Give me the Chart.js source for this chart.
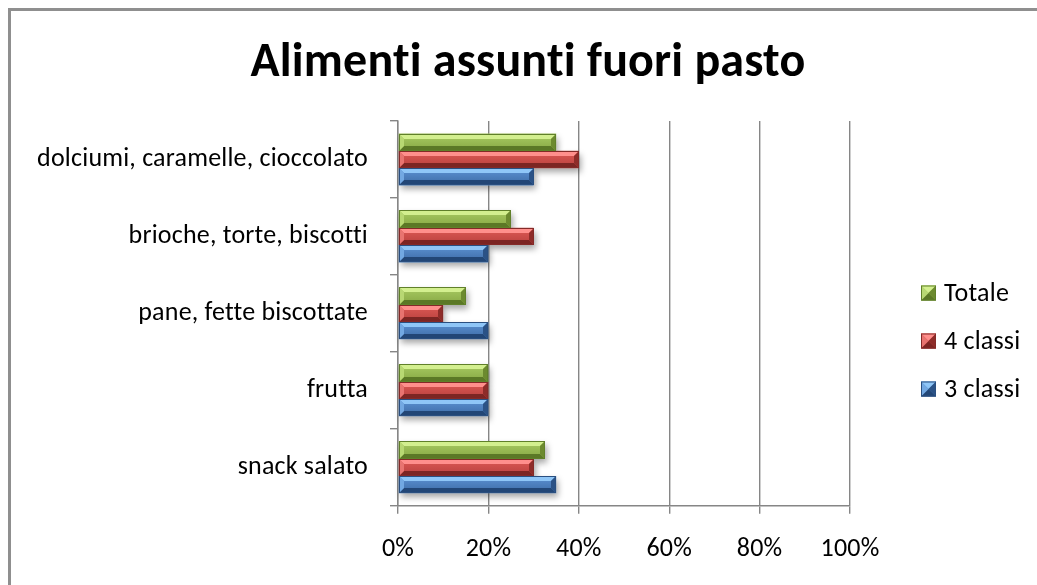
<!DOCTYPE html>
<html>
<head>
<meta charset="utf-8">
<script src="https://cdn.jsdelivr.net/npm/chart.js@4.4.1/dist/chart.umd.min.js"></script>
<style>
  html, body { margin: 0; padding: 0; background: #fff; overflow: hidden; }
  #frame { position: absolute; left: 8px; top: 8px; width: 1100px; height: 650px;
           border: 3px solid #8f8f8f; box-sizing: border-box; }
  #wrap { position: absolute; left: 0; top: 0; width: 1037px; height: 585px; }
</style>
</head>
<body>
<div id="frame"></div>
<div id="wrap"><canvas id="c" width="1037" height="585"></canvas></div>
<script>
// Foods eaten between meals, share of pupils per group (%)
const categories = [
  'dolciumi, caramelle, cioccolato',
  'brioche, torte, biscotti',
  'pane, fette biscottate',
  'frutta',
  'snack salato'
];
const seriesNames = ['Totale', '4 classi', '3 classi'];
const totale  = [35, 25, 15, 20, 32.5];
const classi4 = [40, 30, 10, 20, 30];
const classi3 = [30, 20, 20, 20, 35];
const xTicks  = [0, 20, 40, 60, 80, 100];
const chartTitle = 'Alimenti assunti fuori pasto';

const FONT = "Carlito, Calibri, Lato, 'Open Sans', sans-serif";

// bevel palettes for each series
const palettes = [
  { base: '#9bbb59', hi: '#d3ef8f', faceTop: '#a9cb63', faceBot: '#86a743', lo: '#5b7826', left: '#b8d873', right: '#6c8a2f', edge: '#60802a' },
  { base: '#c0504d', hi: '#ff8f8c', faceTop: '#de5a56', faceBot: '#b8403d', lo: '#7c2523', left: '#e87470', right: '#8e2c29', edge: '#842a28' },
  { base: '#4f81bd', hi: '#8fc6f7', faceTop: '#5d93d4', faceBot: '#3d6ba6', lo: '#224676', left: '#72a8e2', right: '#2b5286', edge: '#2a4f80' }
];

function poly(ctx, pts, fill) {
  ctx.beginPath();
  ctx.moveTo(pts[0][0], pts[0][1]);
  for (let i = 1; i < pts.length; i++) ctx.lineTo(pts[i][0], pts[i][1]);
  ctx.closePath();
  ctx.fillStyle = fill;
  ctx.fill();
}

function bevelRect(ctx, x0, y0, x1, y1, p, bev) {
  const b = Math.min(bev, (y1 - y0) / 2, (x1 - x0) / 2);
  const g = ctx.createLinearGradient(0, y0, 0, y1);
  g.addColorStop(0, p.faceTop);
  g.addColorStop(1, p.faceBot);
  ctx.fillStyle = g;
  ctx.fillRect(x0, y0, x1 - x0, y1 - y0);
  poly(ctx, [[x0, y0], [x1, y0], [x1 - b, y0 + b], [x0 + b, y0 + b]], p.hi);
  poly(ctx, [[x0, y1], [x1, y1], [x1 - b, y1 - b], [x0 + b, y1 - b]], p.lo);
  poly(ctx, [[x0, y0], [x0 + b, y0 + b], [x0 + b, y1 - b], [x0, y1]], p.left);
  poly(ctx, [[x1, y0], [x1 - b, y0 + b], [x1 - b, y1 - b], [x1, y1]], p.right);
  ctx.strokeStyle = p.edge;
  ctx.lineWidth = 1;
  ctx.strokeRect(x0 + 0.5, y0 + 0.5, x1 - x0 - 1, y1 - y0 - 1);
}

function barBox(el) {
  const x0 = Math.min(el.x, el.base), x1 = Math.max(el.x, el.base);
  const y0 = el.y - el.height / 2, y1 = el.y + el.height / 2;
  return { x0: Math.round(x0), x1: Math.round(x1), y0: Math.round(y0), y1: Math.round(y1) };
}

const bevelPlugin = {
  id: 'bevelBars',
  beforeDraw(chart) {
    // plain glyphs, no "ti"/"tt" ligatures
    const ctx = chart.ctx;
    if ('textRendering' in ctx) ctx.textRendering = 'optimizeSpeed';
    if ('letterSpacing' in ctx) ctx.letterSpacing = '0.2px';
  },
  beforeDatasetsDraw(chart) {
    const ctx = chart.ctx;
    ctx.save();
    ctx.shadowColor = 'rgba(0,0,0,0.35)';
    ctx.shadowBlur = 6;
    ctx.shadowOffsetX = 2;
    ctx.shadowOffsetY = 4;
    chart.data.datasets.forEach((ds, i) => {
      chart.getDatasetMeta(i).data.forEach(el => {
        const r = barBox(el);
        ctx.fillStyle = '#ffffff';
        ctx.fillRect(r.x0, r.y0, r.x1 - r.x0, r.y1 - r.y0);
      });
    });
    ctx.restore();
  },
  afterDatasetsDraw(chart) {
    const ctx = chart.ctx;
    ctx.save();
    chart.data.datasets.forEach((ds, i) => {
      chart.getDatasetMeta(i).data.forEach(el => {
        const r = barBox(el);
        bevelRect(ctx, r.x0, r.y0, r.x1, r.y1, palettes[i], 5);
      });
    });
    ctx.restore();
  },
  afterDraw(chart) {
    const ctx = chart.ctx;
    const area = chart.chartArea;
    ctx.save();
    // title, centred on the framed chart
    ctx.font = 'bold 48px ' + FONT;
    ctx.textAlign = 'center';
    ctx.textBaseline = 'alphabetic';
    ctx.fillStyle = '#000';
    ctx.fillText(chartTitle, 528, area.top - 45);

    // legend on the right, boxes drawn as small bevelled pyramids
    const left = area.right + 71;
    const top = area.top + 172;
    const gap = 48;
    const box = 15;
    ctx.font = '26px ' + FONT;
    ctx.textAlign = 'left';
    ctx.textBaseline = 'middle';
    seriesNames.forEach((name, i) => {
      const cy = top + i * gap;
      bevelRect(ctx, left, cy - box / 2, left + box, cy + box / 2, palettes[i], box / 2);
      ctx.fillStyle = '#000';
      ctx.fillText(name, left + box + 8, cy + 1);
    });
    ctx.restore();
  }
};

const gridGrey = '#868686';

new Chart(document.getElementById('c'), {
  type: 'bar',
  data: {
    labels: categories,
    datasets: [
      { label: seriesNames[0], data: totale,  backgroundColor: palettes[0].base },
      { label: seriesNames[1], data: classi4, backgroundColor: palettes[1].base },
      { label: seriesNames[2], data: classi3, backgroundColor: palettes[2].base }
    ]
  },
  options: {
    indexAxis: 'y',
    responsive: false,
    animation: false,
    devicePixelRatio: 1,
    layout: { padding: { left: 10, right: 187, top: 121, bottom: 0 } },
    datasets: { bar: { categoryPercentage: 0.675, barPercentage: 1.0 } },
    plugins: {
      legend: { display: false },
      tooltip: { enabled: false },
      title: { display: false }
    },
    scales: {
      x: {
        min: 0,
        max: 100,
        afterBuildTicks(scale) { scale.ticks = xTicks.map(v => ({ value: v })); },
        ticks: {
          color: '#000',
          padding: 20,
          font: { family: FONT, size: 26 },
          callback: v => v + '%'
        },
        grid: { color: gridGrey, lineWidth: 1.4, tickLength: 8, drawTicks: true },
        border: { color: gridGrey, width: 1.4 }
      },
      y: {
        afterFit(scale) { scale.width = 388; },
        ticks: {
          color: '#000',
          padding: 22,
          font: { family: FONT, size: 26 }
        },
        grid: { drawOnChartArea: false, offset: true, color: gridGrey, lineWidth: 1.4, tickLength: 8 },
        border: { color: gridGrey, width: 1.4 }
      }
    }
  },
  plugins: [bevelPlugin]
});
</script>
</body>
</html>
